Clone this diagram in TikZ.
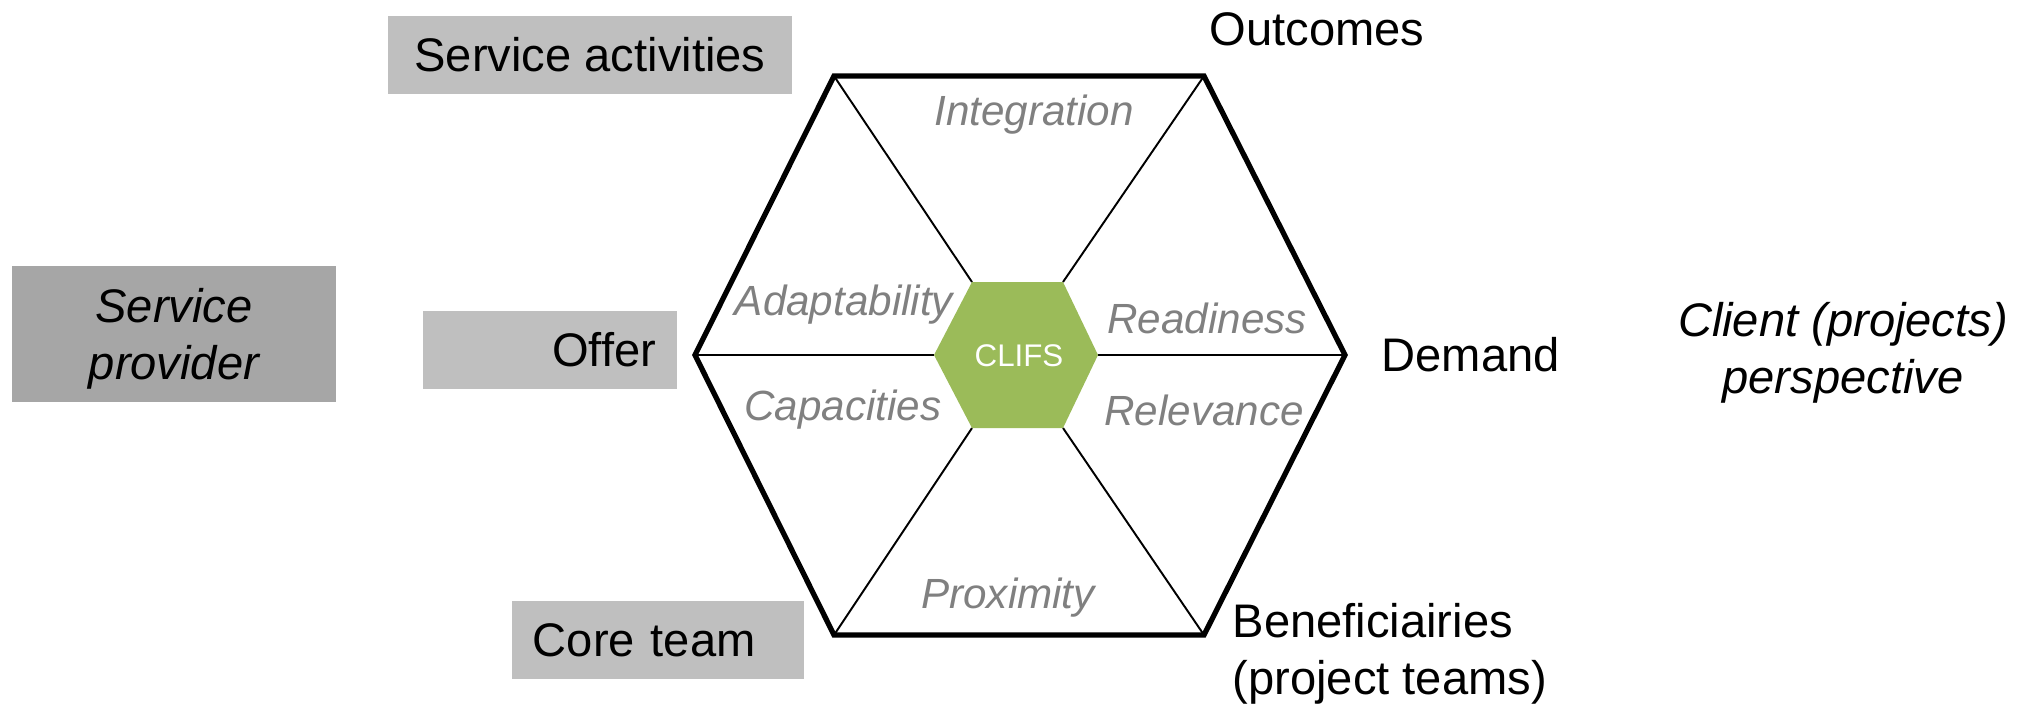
\documentclass[tikz,border=0pt]{standalone}
\usepackage{fontspec}
\setmainfont{Liberation Sans}
\definecolor{boxgray}{HTML}{BFBFBF}
\definecolor{darkbox}{HTML}{A6A6A6}
\definecolor{txtgray}{HTML}{808080}
\definecolor{clifsgreen}{HTML}{9BBB59}
\newcommand\mfont{\fontsize{13.4}{16.2}\selectfont}
\begin{document}
\begin{tikzpicture}[x=0.01cm,y=-0.01cm,
  main/.style={font=\mfont, inner sep=0pt},
  glbl/.style={font=\fontsize{12}{14}\selectfont\itshape, text=txtgray, inner sep=0pt, anchor=base},
  lbox/.style={fill=boxgray, font=\mfont, inner sep=0pt, minimum height=0.78cm},
  outer/.style={line width=1.5pt, line join=miter},
  spoke/.style={line width=0.55pt}]
\useasboundingbox (0,0) rectangle (2024,708);

% big hexagon vertices
\coordinate (TL) at (834,76);
\coordinate (TR) at (1204,76);
\coordinate (R)  at (1345,355);
\coordinate (BR) at (1204,635);
\coordinate (BL) at (834,635);
\coordinate (L)  at (695,355);
% small hexagon vertices
\coordinate (sTL) at (972,282);
\coordinate (sTR) at (1063,282);
\coordinate (sR)  at (1098,355);
\coordinate (sBR) at (1063,428);
\coordinate (sBL) at (972,428);
\coordinate (sL)  at (934,355);

% spokes
\draw[spoke] (TL) -- (sTL);
\draw[spoke] (TR) -- (sTR);
\draw[spoke] (R) -- (sR);
\draw[spoke] (BR) -- (sBR);
\draw[spoke] (BL) -- (sBL);
\draw[spoke] (L) -- (sL);

% central hexagon
\fill[clifsgreen] (sL) -- (sTL) -- (sTR) -- (sR) -- (sBR) -- (sBL) -- cycle;
\node[font=\fontsize{8.9}{10}\selectfont, text=white, inner sep=0pt] (clifs) at (1019,356) {CLIFS};

% outer hexagon
\draw[outer] (TL) -- (TR) -- (R) -- (BR) -- (BL) -- (L) -- cycle;

% gray inner labels
\node[glbl] (integration) at (1034,125) {Integration};
\node[glbl] (adaptability) at (844,315) {Adaptability};
\node[glbl] (capacities) at (843,420) {Capacities};
\node[glbl] (readiness) at (1207,333) {Readiness};
\node[glbl] (relevance) at (1204,425) {Relevance};
\node[glbl] (proximity) at (1008,608) {Proximity};

% boxes
\node[lbox, minimum width=4.04cm] (activities) at (590,55) {Service activities};
\node[fill=darkbox, font=\mfont\itshape, inner sep=0pt, text depth=0pt, minimum width=3.24cm, minimum height=1.36cm, align=center] (provider) at (174,334) {Service\\provider};
\node[lbox, text width=2.12cm, inner xsep=0.21cm, align=right] (offer) at (550,350) {Offer};
\node[lbox, text width=2.50cm, inner xsep=0.21cm, align=left] (core) at (658,640) {Core team};

% right labels
\node[main, anchor=base west] (outcomes) at (1209,45) {Outcomes};
\node[main, anchor=base west] (demand) at (1381,371) {Demand};
\node[main, anchor=west, align=left] (benef) at (1232,654) {Beneficiairies\\(project teams)};
\node[font=\mfont\itshape, inner sep=0pt, align=center] (client) at (1843,353) {Client (projects)\\perspective};
\end{tikzpicture}
\end{document}
